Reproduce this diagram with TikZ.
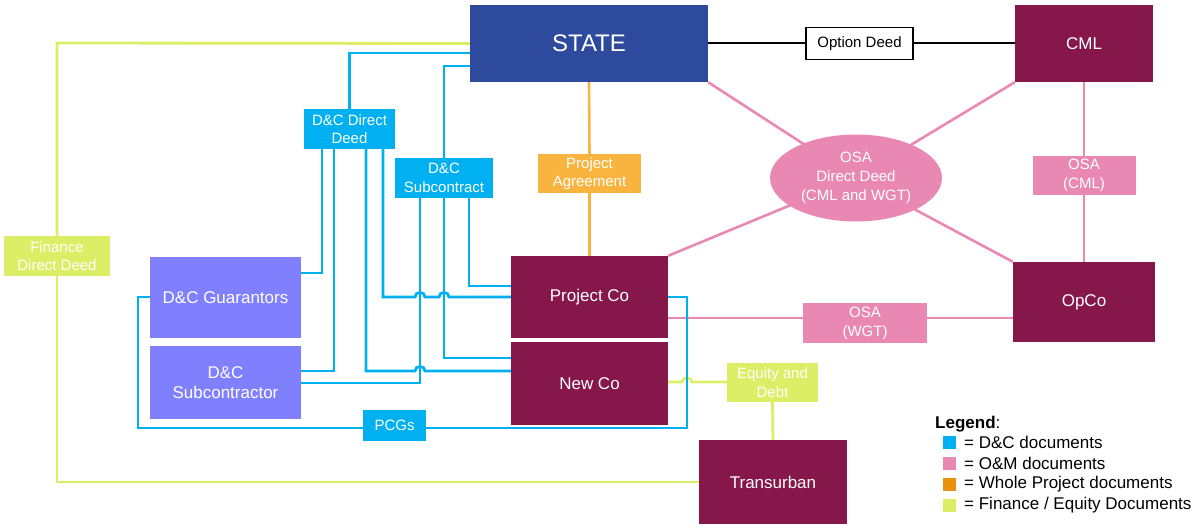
\documentclass[tikz,border=0pt]{standalone}
\usepackage{fontspec}
\setmainfont{Liberation Sans}
\usetikzlibrary{shapes.geometric,backgrounds}
\definecolor{stateblue}{HTML}{2E4A9C}
\definecolor{maroon}{HTML}{85174A}
\definecolor{lav}{HTML}{8080FF}
\definecolor{dccyan}{HTML}{00B0F0}
\definecolor{ompink}{HTML}{EA88B4}
\definecolor{paorange}{HTML}{F9B440}
\definecolor{legorange}{HTML}{E8920E}
\definecolor{fingreen}{HTML}{DCEE65}
\tikzset{
  box/.style={rectangle, inner sep=0pt, text=white, align=center},
  bigbox/.style={box, font=\fontsize{17}{20}\selectfont},
  lbl/.style={box, font=\fontsize{15}{18.7}\selectfont},
  dcline/.style={draw=dccyan, line width=2.8pt},
  omline/.style={draw=ompink, line width=2.6pt},
  paline/.style={draw=paorange, line width=2.6pt},
  finline/.style={draw=fingreen, line width=2.8pt},
  blackline/.style={draw=black, line width=2pt},
  legsq/.style={rectangle, inner sep=0pt, minimum size=13pt},
  legtxt/.style={anchor=west, inner sep=0pt, font=\fontsize{17}{20}\selectfont},
}
\begin{document}
\begin{tikzpicture}[x=1pt,y=-1pt]
\useasboundingbox (0,0) rectangle (1197,527);

% main boxes
\node[bigbox, fill=stateblue, minimum width=238pt, minimum height=77pt, font=\fontsize{24}{28}\selectfont] (state) at (589,43.5) {STATE};
\node[bigbox, fill=maroon, minimum width=138pt, minimum height=77pt] (cml) at (1084,43.5) {CML};
\node[bigbox, fill=maroon, minimum width=142pt, minimum height=80pt] (opco) at (1084,302) {OpCo};
\node[bigbox, fill=maroon, minimum width=157pt, minimum height=82pt] (pco) at (589.5,297) {Project Co};
\node[bigbox, fill=maroon, minimum width=157pt, minimum height=83pt] (newco) at (589.5,383.5) {New Co};
\node[bigbox, fill=maroon, minimum width=148pt, minimum height=84pt] (trans) at (773,482) {Transurban};
\node[bigbox, fill=lav, minimum width=151pt, minimum height=81pt] (guar) at (225.5,297.5) {D\&C Guarantors};
\node[bigbox, fill=lav, minimum width=151pt, minimum height=73pt] (sub) at (225.5,382.5) {D\&C\\Subcontractor};

% labels
\node[lbl, fill=white, draw=black, line width=1.2pt, text=black, minimum width=107pt, minimum height=32pt] (optd) at (859.5,43.5) {Option Deed};
\node[lbl, fill=dccyan, minimum width=91pt, minimum height=40pt] (ddd) at (349.5,129) {D\&C Direct\\Deed};
\node[lbl, fill=dccyan, minimum width=98pt, minimum height=40pt] (dsc) at (444,178) {D\&C\\Subcontract};
\node[lbl, fill=paorange, minimum width=103pt, minimum height=39pt] (pa) at (589.5,173.5) {Project\\Agreement};
\node[lbl, ellipse, fill=ompink, minimum width=172pt, minimum height=87pt] (osa) at (856,178) {OSA\\Direct Deed\\(CML and WGT)};
\node[lbl, fill=ompink, minimum width=103pt, minimum height=39pt] (osacml) at (1084,175.5) {OSA\\(CML)};
\node[lbl, fill=ompink, minimum width=124pt, minimum height=40pt] (osawgt) at (865,323) {OSA\\(WGT)};
\node[lbl, fill=fingreen, minimum width=91pt, minimum height=39pt] (eqd) at (772.5,382.5) {Equity and\\Debt};
\node[lbl, fill=dccyan, minimum width=63pt, minimum height=31pt] (pcgs) at (394.5,425) {PCGs};
\node[lbl, fill=fingreen, minimum width=106pt, minimum height=40pt] (fdd) at (57,256) {Finance\\Direct Deed};

\begin{pgfonlayer}{background}
  % black
  \draw[blackline] (state.east) -- (optd.west);
  \draw[blackline] (optd.east) -- (cml.west);
  % orange
  \draw[paline] (state.south) -- (pa.north);
  \draw[paline] (pa.south) -- (pco.north);
  % pink
  \draw[omline] (state.south east) -- (osa.center);
  \draw[omline] (cml.south west) -- (osa.center);
  \draw[omline] (pco.north east) -- (osa.center);
  \draw[omline] (opco.north west) -- (osa.center);
  \draw[omline] (cml.south) -- (osacml.north);
  \draw[omline] (osacml.south) -- (opco.north);
  \draw[omline] (pco.east |- 0,318) -- (osawgt.west |- 0,318);
  \draw[omline] (osawgt.east |- 0,318) -- (opco.west |- 0,318);
  % finance
  \draw[finline] (state.west) -- (fdd.north |- 0,43) -- (fdd.north);
  \draw[finline] (fdd.south) -- (fdd.south |- 0,482) -- (trans.west |- 0,482);
  \draw[finline] (newco.east |- 0,382) -- (682,382) .. controls (682,376.5) and (692,376.5) .. (692,382) -- (eqd.west |- 0,382);
  \draw[finline] (eqd.south) -- (trans.north);
  % D&C
  \draw[dcline] (state.west |- 0,53) -| (ddd.north);
  \draw[dcline] (state.west |- 0,66) -| (dsc.north);
  \draw[dcline] (ddd.south -| 322,0) |- (guar.east |- 0,273);
  \draw[dcline] (ddd.south -| 334,0) |- (sub.east |- 0,371);
  \draw[dcline] (ddd.south -| 366,0) -- (366,371) -- (415,371) .. controls (415,365) and (425,365) .. (425,371) -- (newco.west |- 0,371);
  \draw[dcline] (ddd.south -| 383,0) -- (383,297) -- (415,297) .. controls (415,291) and (425,291) .. (425,297) -- (439,297) .. controls (439,291) and (449,291) .. (449,297) -- (pco.west |- 0,297);
  \draw[dcline] (dsc.south -| 420,0) |- (sub.east |- 0,383);
  \draw[dcline] (dsc.south -| 444,0) |- (newco.west |- 0,358);
  \draw[dcline] (dsc.south -| 469,0) |- (pco.west |- 0,286);
  \draw[dcline] (guar.west |- 0,297) -- (138,297) -- (138,428) -- (pcgs.west |- 0,428);
  \draw[dcline] (pcgs.east |- 0,428) -- (687,428) -- (687,297) -- (pco.east |- 0,297);
\end{pgfonlayer}

% legend
\node[legtxt, text=black] (leg) at (935,424) {\textbf{Legend}:};
\node[legsq, fill=dccyan] (sq1) at (949.5,442.5) {};
\node[legsq, fill=ompink] (sq2) at (949.5,463.5) {};
\node[legsq, fill=legorange] (sq3) at (949.5,484.5) {};
\node[legsq, fill=fingreen] (sq4) at (949.5,505.5) {};
\node[legtxt] (lt1) at (964,442.5) {= D\&C documents};
\node[legtxt] (lt2) at (964,463.5) {= O\&M documents};
\node[legtxt] (lt3) at (964,484.5) {= Whole Project documents};
\node[legtxt] (lt4) at (964,505.5) {= Finance / Equity Documents};
\end{tikzpicture}
\end{document}
